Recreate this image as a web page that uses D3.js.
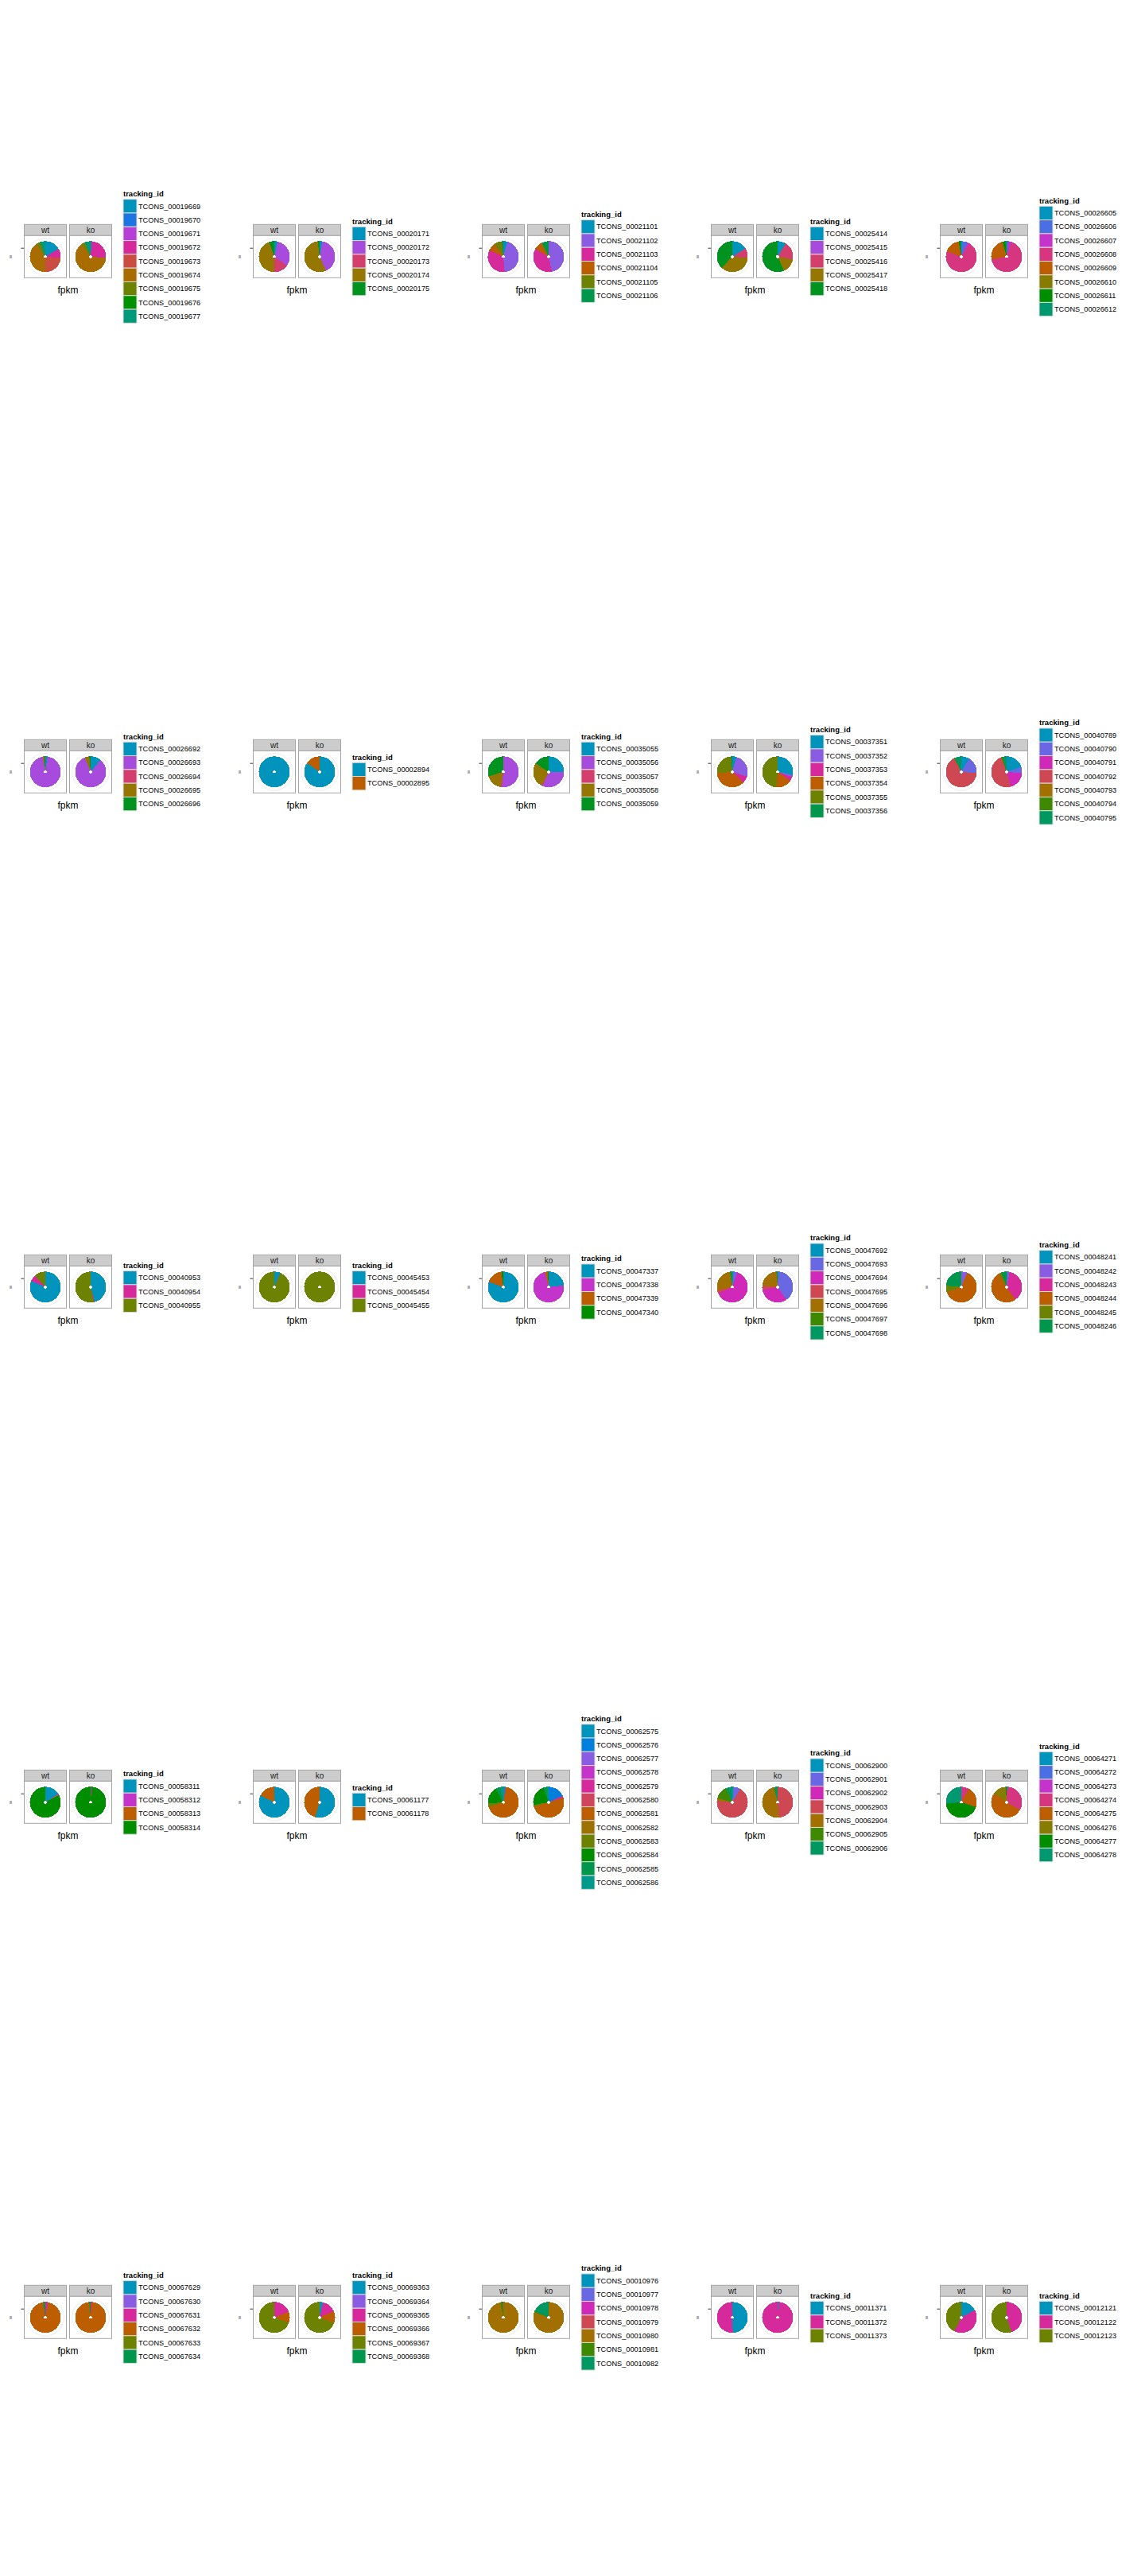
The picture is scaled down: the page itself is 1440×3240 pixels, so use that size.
<!DOCTYPE html>
<html><head><meta charset="utf-8">
<script src="https://cdn.jsdelivr.net/npm/d3@7"></script>
<style>
body{margin:0;background:#fff}
svg text{font-family:"Liberation Sans", Arial, Helvetica, sans-serif}
</style>
</head><body>
<svg id="c" width="1440" height="3240"></svg>
<script>
// ---------------- data ----------------
const conditions = ["wt", "ko"];
const legendTitle = "tracking_id";
const thetaTitle = "fpkm";

const isoformIds = [
  ["TCONS_00019669","TCONS_00019670","TCONS_00019671","TCONS_00019672","TCONS_00019673","TCONS_00019674","TCONS_00019675","TCONS_00019676","TCONS_00019677"],
  ["TCONS_00020171","TCONS_00020172","TCONS_00020173","TCONS_00020174","TCONS_00020175"],
  ["TCONS_00021101","TCONS_00021102","TCONS_00021103","TCONS_00021104","TCONS_00021105","TCONS_00021106"],
  ["TCONS_00025414","TCONS_00025415","TCONS_00025416","TCONS_00025417","TCONS_00025418"],
  ["TCONS_00026605","TCONS_00026606","TCONS_00026607","TCONS_00026608","TCONS_00026609","TCONS_00026610","TCONS_00026611","TCONS_00026612"],
  ["TCONS_00026692","TCONS_00026693","TCONS_00026694","TCONS_00026695","TCONS_00026696"],
  ["TCONS_00002894","TCONS_00002895"],
  ["TCONS_00035055","TCONS_00035056","TCONS_00035057","TCONS_00035058","TCONS_00035059"],
  ["TCONS_00037351","TCONS_00037352","TCONS_00037353","TCONS_00037354","TCONS_00037355","TCONS_00037356"],
  ["TCONS_00040789","TCONS_00040790","TCONS_00040791","TCONS_00040792","TCONS_00040793","TCONS_00040794","TCONS_00040795"],
  ["TCONS_00040953","TCONS_00040954","TCONS_00040955"],
  ["TCONS_00045453","TCONS_00045454","TCONS_00045455"],
  ["TCONS_00047337","TCONS_00047338","TCONS_00047339","TCONS_00047340"],
  ["TCONS_00047692","TCONS_00047693","TCONS_00047694","TCONS_00047695","TCONS_00047696","TCONS_00047697","TCONS_00047698"],
  ["TCONS_00048241","TCONS_00048242","TCONS_00048243","TCONS_00048244","TCONS_00048245","TCONS_00048246"],
  ["TCONS_00058311","TCONS_00058312","TCONS_00058313","TCONS_00058314"],
  ["TCONS_00061177","TCONS_00061178"],
  ["TCONS_00062575","TCONS_00062576","TCONS_00062577","TCONS_00062578","TCONS_00062579","TCONS_00062580","TCONS_00062581","TCONS_00062582","TCONS_00062583","TCONS_00062584","TCONS_00062585","TCONS_00062586"],
  ["TCONS_00062900","TCONS_00062901","TCONS_00062902","TCONS_00062903","TCONS_00062904","TCONS_00062905","TCONS_00062906"],
  ["TCONS_00064271","TCONS_00064272","TCONS_00064273","TCONS_00064274","TCONS_00064275","TCONS_00064276","TCONS_00064277","TCONS_00064278"],
  ["TCONS_00067629","TCONS_00067630","TCONS_00067631","TCONS_00067632","TCONS_00067633","TCONS_00067634"],
  ["TCONS_00069363","TCONS_00069364","TCONS_00069365","TCONS_00069366","TCONS_00069367","TCONS_00069368"],
  ["TCONS_00010976","TCONS_00010977","TCONS_00010978","TCONS_00010979","TCONS_00010980","TCONS_00010981","TCONS_00010982"],
  ["TCONS_00011371","TCONS_00011372","TCONS_00011373"],
  ["TCONS_00012121","TCONS_00012122","TCONS_00012123"]
];

// relative fpkm shares
const wtFpkm = [
  [60,0,0,35,85,145,15,0,20],
  [12,113,55,161,19],
  [15,160,120,30,30,5],
  [58,0,37,129,136],
  [3,20,8,259,60,0,7,3],
  [8,342,0,6,4],
  [360,0],
  [0,185,5,63,107],
  [15,93,27,130,90,5],
  [30,65,0,237,0,3,25],
  [293,24,43],
  [22,1,337],
  [289,1,63,7],
  [5,13,227,13,92,5,5],
  [0,22,0,228,25,85],
  [57,3,3,297],
  [296,64],
  [8,0,0,0,3,0,240,0,14,65,20,10],
  [5,25,0,245,10,50,25],
  [0,0,3,25,80,0,157,95],
  [0,0,10,340,3,7],
  [0,0,68,42,250,0],
  [0,0,0,3,345,12,0],
  [178,182,0],
  [61,146,153]
];
const koFpkm = [
  [4,0,0,91,0,230,13,0,22],
  [10,146,0,197,7],
  [0,168,132,30,5,25],
  [31,0,70,55,204],
  [5,0,15,240,82,3,10,5],
  [40,298,0,17,5],
  [305,55],
  [90,113,4,96,57],
  [102,8,15,60,175,0],
  [72,23,69,176,0,5,15],
  [164,3,193],
  [0,0,360],
  [84,262,11,3],
  [3,142,115,15,80,3,2],
  [3,8,135,184,10,20],
  [0,3,1,356],
  [196,164],
  [0,65,0,0,8,0,180,0,7,80,15,5],
  [0,0,0,175,170,3,12],
  [2,0,0,118,185,52,3,0],
  [0,0,5,348,2,5],
  [12,0,54,45,249,0],
  [0,0,0,0,290,3,67],
  [3,357,0],
  [0,161,199]
];

// ---------------- palette (R hcl / polarLUV, like scale_fill_hue(l=50, h.start=200)) ----------------
function hclLuv(h, c, l) {
  const WY = 100, Wu = 0.1978398, Wv = 0.4683363;
  const hr = h * Math.PI / 180;
  const U = c * Math.cos(hr), V = c * Math.sin(hr);
  const Y = WY * (l > 7.999592 ? Math.pow((l + 16) / 116, 3) : l / 903.3);
  const u = U / (13 * l) + Wu, v = V / (13 * l) + Wv;
  const X = 9.0 * Y * u / (4 * v);
  const Z = -X / 3 - 5 * Y + 3 * Y / v;
  const x = X / WY, y = Y / WY, z = Z / WY;
  const lin = [
    3.240479 * x - 1.537150 * y - 0.498535 * z,
    -0.969256 * x + 1.875992 * y + 0.041556 * z,
    0.055648 * x - 0.204043 * y + 1.057311 * z
  ];
  const g = t => t > 0.00304 ? 1.055 * Math.pow(t, 1 / 2.4) - 0.055 : 12.92 * t;
  const ch = lin.map(t => Math.round(255 * Math.max(0, Math.min(1, g(t)))));
  return d3.rgb(ch[0], ch[1], ch[2]).formatHex();
}
function huePal(n) {
  const out = [];
  for (let i = 0; i < n; i++) out.push(hclLuv((15 + 360 * i / n + 200) % 360, 100, 50));
  return out;
}

// ---------------- layout ----------------
const svg = d3.select("#c");
const cellW = 288, cellH = 648, nCols = 5;
const stripH = 14;
const panelTop = 296.3;          // panel body top within a cell
const legendCenterY = 321.5;
const keyW = 17, keyH = 17.3;

const xBand = d3.scaleBand().domain(conditions).range([30.5, 140.5]).paddingInner(0.07);
const pw = xBand.bandwidth();
const rOut = pw * 0.368, rIn = pw * 0.034, rGrid = pw * 0.44;
const rScale = d3.scaleLinear().domain([0.4, 1.6]).range([0, pw * 0.4]); // discrete radial axis

const pie = d3.pie().sort(null).value(d => d.v).startAngle(0).endAngle(2 * Math.PI);
const arc = d3.arc().innerRadius(rIn).outerRadius(rOut);

isoformIds.forEach((ids, p) => {
  const col = p % nCols, row = Math.floor(p / nCols);
  const g = svg.append("g").attr("transform", `translate(${col * cellW},${row * cellH})`);
  const color = d3.scaleOrdinal().domain(ids).range(huePal(ids.length));
  const cy = panelTop + pw / 2;

  // radial axis tick + title
  g.append("line").attr("x1", xBand("wt") - 4).attr("x2", xBand("wt"))
    .attr("y1", cy - rScale(1)).attr("y2", cy - rScale(1))
    .attr("stroke", "#333").attr("stroke-width", 1);
  g.append("text").attr("transform", `translate(14,${cy}) rotate(-90)`)
    .attr("text-anchor", "middle").attr("dy", "0.35em")
    .attr("font-size", 4).attr("fill", "#222").text("IIII");

  conditions.forEach((cond, ci) => {
    const vals = (ci === 0 ? wtFpkm : koFpkm)[p];
    const x0 = xBand(cond);
    // strip
    g.append("rect").attr("x", x0).attr("y", panelTop - stripH).attr("width", pw).attr("height", stripH)
      .attr("fill", "#CCCCCC").attr("stroke", "#A6A6A6").attr("stroke-width", 1);
    g.append("text").attr("x", x0 + pw / 2).attr("y", panelTop - stripH / 2).attr("dy", "0.35em")
      .attr("text-anchor", "middle").attr("font-size", 10).attr("fill", "#1A1A1A").text(cond);
    // panel
    g.append("rect").attr("x", x0).attr("y", panelTop).attr("width", pw).attr("height", pw)
      .attr("fill", "#fff").attr("stroke", "#A6A6A6").attr("stroke-width", 1);
    const pg = g.append("g").attr("transform", `translate(${x0 + pw / 2},${cy})`);
    pg.append("circle").attr("r", rGrid).attr("fill", "none").attr("stroke", "#EEEEEE").attr("stroke-width", 1);
    const data = ids.map((id, i) => ({ id, v: vals[i] }));
    pg.selectAll("path").data(pie(data)).join("path")
      .attr("d", arc).attr("fill", d => color(d.data.id))
      .attr("shape-rendering", "crispEdges");
  });

  // theta title
  g.append("text").attr("x", (xBand("wt") + xBand("ko") + pw) / 2).attr("y", panelTop + pw + 20)
    .attr("text-anchor", "middle").attr("font-size", 12).attr("fill", "#000").text(thetaTitle);

  // legend
  const lx = 155;
  const totalH = 14 + ids.length * keyH;
  const top = legendCenterY - totalH / 2;
  g.append("text").attr("x", lx).attr("y", top + 10.5).attr("font-size", 9.5)
    .attr("font-weight", "bold").attr("fill", "#000").text(legendTitle);
  const keyY = d3.scaleBand().domain(ids).range([top + 14, top + 14 + ids.length * keyH]);
  const items = g.selectAll("g.key").data(ids).join("g").attr("class", "key");
  items.append("rect").attr("x", lx).attr("y", d => keyY(d)).attr("width", keyW).attr("height", keyY.bandwidth())
    .attr("fill", d => color(d)).attr("stroke", "#DADADA").attr("stroke-width", 1);
  items.append("text").attr("x", lx + keyW + 2).attr("y", d => keyY(d) + keyY.bandwidth() / 2)
    .attr("dy", "0.35em").attr("font-size", 9.2).attr("fill", "#000").text(d => d);
});
</script>
</body></html>
